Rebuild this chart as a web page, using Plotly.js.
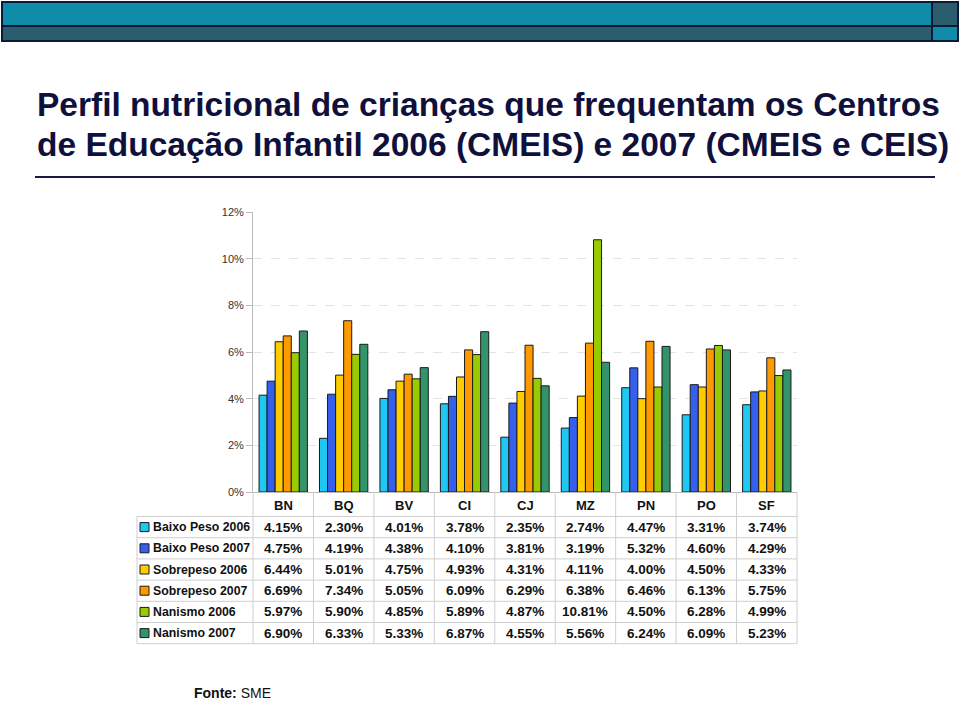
<!DOCTYPE html>
<html><head><meta charset="utf-8">
<script src="https://cdn.plot.ly/plotly-3.0.1.min.js"></script>
<style>html,body{margin:0;padding:0;background:#fff;}#chart{width:960px;height:703px;}</style>
</head><body><div id="chart"></div>
<script>
const categories = ['BN','BQ','BV','CI','CJ','MZ','PN','PO','SF'];
const seriesNames = ['Baixo Peso 2006','Baixo Peso 2007','Sobrepeso 2006','Sobrepeso 2007','Nanismo 2006','Nanismo 2007'];
const baixoPeso2006 = [4.15,2.30,4.01,3.78,2.35,2.74,4.47,3.31,3.74];
const baixoPeso2007 = [4.75,4.19,4.38,4.10,3.81,3.19,5.32,4.60,4.29];
const sobrepeso2006 = [6.44,5.01,4.75,4.93,4.31,4.11,4.00,4.50,4.33];
const sobrepeso2007 = [6.69,7.34,5.05,6.09,6.29,6.38,6.46,6.13,5.75];
const nanismo2006 = [5.97,5.90,4.85,5.89,4.87,10.81,4.50,6.28,4.99];
const nanismo2007 = [6.90,6.33,5.33,6.87,4.55,5.56,6.24,6.09,5.23];
const yTicks = [0,2,4,6,8,10,12];
const titleLines = ['Perfil nutricional de crianças que frequentam os Centros','de Educação Infantil 2006 (CMEIS) e 2007 (CMEIS e CEIS)'];

const allSeries = [baixoPeso2006,baixoPeso2007,sobrepeso2006,sobrepeso2007,nanismo2006,nanismo2007];
const colors = ['#1ec8f2','#3560ee','#ffcc00','#ff9900','#99cc00','#33946a'];

// plot area in pixels
const L=253, R=797, T=212, B=492, W=R-L, H=B-T;
const fx = x => (x-L)/W;
const fy = y => (B-y)/H;

const traces = allSeries.map((vals,i)=>({
  type:'bar', name:seriesNames[i], x:categories, y:vals,
  marker:{color:colors[i], line:{color:'#1a1a1a', width:1}},
  hoverinfo:'x+y'
}));

const shapes = [];
const annotations = [];
const FONT = 'Liberation Sans, Arial, sans-serif';

// top banner
shapes.push({type:'rect',xref:'paper',yref:'paper',x0:fx(2),x1:fx(932),y0:fy(2),y1:fy(26),fillcolor:'#0f8ca8',line:{color:'#0b1a3a',width:2}});
shapes.push({type:'rect',xref:'paper',yref:'paper',x0:fx(2),x1:fx(932),y0:fy(26),y1:fy(41),fillcolor:'#2a5d6d',line:{color:'#0b1a3a',width:2}});
shapes.push({type:'rect',xref:'paper',yref:'paper',x0:fx(932),x1:fx(958),y0:fy(2),y1:fy(26),fillcolor:'#2a5d6d',line:{color:'#0b1a3a',width:2}});
shapes.push({type:'rect',xref:'paper',yref:'paper',x0:fx(932),x1:fx(958),y0:fy(26),y1:fy(41),fillcolor:'#0f8ca8',line:{color:'#0b1a3a',width:2}});
// title rule
shapes.push({type:'line',xref:'paper',yref:'paper',x0:fx(35),x1:fx(935),y0:fy(177),y1:fy(177),line:{color:'#1a1a40',width:2}});

// title
titleLines.forEach((t,i)=>{
  annotations.push({xref:'paper',yref:'paper',x:fx(35),y:fy(104+i*40),xanchor:'left',yanchor:'middle',showarrow:false,
    text:'<b>'+t+'</b>',font:{family:FONT,size:33.5,color:'#10103c'}});
});

// table
const tableLeft = 137;
const headerMid = 505;
const rowTop = 516.5, rowH = 21.2;
const nRows = seriesNames.length;
const tableBottom = rowTop + nRows*rowH;
const lineCol = '#cfcfcf';
for (let r=0;r<=nRows;r++){
  const y = rowTop + r*rowH;
  shapes.push({type:'line',xref:'paper',yref:'paper',x0:fx(tableLeft),x1:fx(R),y0:fy(y),y1:fy(y),line:{color:lineCol,width:1}});
}
const colW = W/categories.length;
for (let c=0;c<=categories.length;c++){
  const x = L + c*colW;
  shapes.push({type:'line',xref:'paper',yref:'paper',x0:fx(x),x1:fx(x),y0:fy(B),y1:fy(tableBottom),line:{color:lineCol,width:1}});
}
shapes.push({type:'line',xref:'paper',yref:'paper',x0:fx(tableLeft),x1:fx(tableLeft),y0:fy(rowTop),y1:fy(tableBottom),line:{color:lineCol,width:1}});
categories.forEach(c=>{
  annotations.push({xref:'x',yref:'paper',x:c,y:fy(headerMid),showarrow:false,yanchor:'middle',xanchor:'center',
    text:'<b>'+c+'</b>',font:{family:FONT,size:13,color:'#111'}});
});
seriesNames.forEach((name,r)=>{
  const yc = rowTop + (r+0.5)*rowH;
  shapes.push({type:'rect',xref:'paper',yref:'paper',x0:fx(140),x1:fx(149),y0:fy(yc-4.5),y1:fy(yc+4.5),fillcolor:colors[r],line:{color:'#1a1a1a',width:1}});
  annotations.push({xref:'paper',yref:'paper',x:fx(151),y:fy(yc),xanchor:'left',yanchor:'middle',showarrow:false,
    text:'<b>'+name+'</b>',font:{family:FONT,size:12.3,color:'#111'}});
  allSeries[r].forEach((v,ci)=>{
    annotations.push({xref:'x',yref:'paper',x:categories[ci],y:fy(yc),xanchor:'center',yanchor:'middle',showarrow:false,
      text:'<b>'+v.toFixed(2)+'%</b>',font:{family:FONT,size:13.5,color:'#111'}});
  });
});

annotations.push({xref:'paper',yref:'paper',x:fx(192),y:fy(693),xanchor:'left',yanchor:'middle',showarrow:false,
  text:'<b>Fonte:</b> SME',font:{family:FONT,size:14,color:'#111'}});

const layout = {
  width:960, height:703,
  margin:{l:L, r:960-R, t:T, b:703-B, pad:0},
  paper_bgcolor:'#fff', plot_bgcolor:'#fff',
  showlegend:false,
  barmode:'group', bargap:0.2, bargroupgap:0,
  xaxis:{type:'category', showticklabels:false, ticks:'', showgrid:false, zeroline:false,
    showline:true, linecolor:'#bbbbbb', linewidth:1, fixedrange:true},
  yaxis:{range:[0,12], tickvals:yTicks, ticktext:yTicks.map(v=>v+'%'),
    showgrid:true, gridcolor:'#e4e4e4', griddash:'dash', gridwidth:1,
    zeroline:false, showline:true, linecolor:'#bbbbbb', linewidth:1,
    ticks:'outside', ticklen:6, tickcolor:'#bbbbbb',
    tickfont:{family:FONT,size:11,color:'#333'}, fixedrange:true},
  shapes:shapes, annotations:annotations
};
Plotly.newPlot('chart', traces, layout, {displayModeBar:false, staticPlot:true});
</script></body></html>
